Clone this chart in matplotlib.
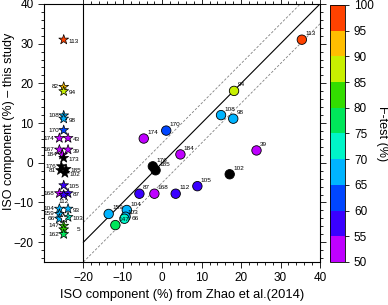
import numpy as np
import matplotlib
matplotlib.use('Agg')
import matplotlib.pyplot as plt
from matplotlib.colors import ListedColormap, BoundaryNorm

plt.rcParams['font.family'] = ['Liberation Sans', 'DejaVu Sans']

# circles: ISO component from Zhao et al. (x) vs this study (y), F-test (%) for colour
circ_labels = ['113', '94', '108', '98', '170', '174', '39', '184', '176', '185', '102',
               '105', '87', '168', '112', '159', '104', '66', '103', '147']
circ_x = [35.4, 18.2, 14.9, 18.0, 1.0, -4.7, 23.9, 4.6, -2.4, -1.7, 17.1,
          8.9, -5.8, -2.0, 3.4, -13.6, -9.0, -9.3, -9.6, -11.9]
circ_y = [31.0, 18.1, 12.0, 11.1, 8.1, 6.1, 3.1, 2.1, -0.9, -1.9, -2.9,
          -5.9, -7.8, -7.8, -7.8, -12.9, -11.9, -13.6, -14.1, -15.7]
circ_f = [97, 87, 67, 67, 62, 52, 52, 52, 40, 40, 40,
          57, 57, 52, 57, 67, 67, 67, 72, 77]

# stars: this study only (plotted in the left column)
star_labels = ['113', '82', '94', '108', '98', '170', '174', '43', '167', '39', '184', '173',
               '176', '81', '185', '102', '105', '168', '87', '112', '104', '93', '159',
               '103', '66', '', '147', '5', '162']
star_y = [31.0, 19.1, 18.0, 11.9, 11.1, 8.2, 6.2, 6.2, 3.3, 3.3, 2.0, 1.2,
          -0.9, -1.9, -1.6, -2.6, -5.7, -7.7, -7.7, -8.1, -11.6, -11.6, -12.9,
          -13.7, -14.1, -14.0, -15.9, -16.8, -18.0]
star_f = [97, 92, 87, 67, 67, 62, 52, 52, 52, 52, 52, 40,
          40, 40, 40, 40, 57, 52, 57, 57, 67, 67, 67,
          72, 67, np.nan, 82, 82, 77]

# layout of the star column: small sideways shift and label side
star_dx = [0, 0, 0, 0, 0, 0, -1.1, 1.1, -1.1, 1.1, -0.3, 0,
           -0.6, -0.8, 0.6, 0.3, 0, -1.1, 1.1, 0, -1.1, 1.1, -1.1,
           1.1, -1.1, 0, 0, 0, 0]
star_side = ['r', 'l', 'r', 'l', 'r', 'l', 'l', 'r', 'l', 'r', 'l', 'r',
             'l', 'l', 'r', 'r', 'r', 'l', 'r', 'b', 'l', 'r', 'l',
             'r', 'l', 'r', 'l', 'rr', 'l']

ticks_cb = [50, 55, 60, 65, 70, 75, 80, 85, 90, 95, 100]
colors_cb = ['#BF00FF', '#3A00FF', '#0046FF', '#00B4FF', '#00F5C8',
             '#00E65A', '#33DD00', '#C8F000', '#FFBE00', '#FF4200']

cmap = ListedColormap(colors_cb)
cmap.set_under('black')
cmap.set_bad('white')
norm = BoundaryNorm(ticks_cb, cmap.N)

fig = plt.figure(figsize=(3.88, 3.05), dpi=100)
ax = fig.add_axes([0.1134, 0.141, 0.7113, 0.846])
cax = fig.add_axes([0.851, 0.141, 0.038, 0.843])

# 1:1 line and +/-5 band
xx = np.array([-20, 40])
ax.plot(xx, xx, color='black', lw=0.8, zorder=1)
ax.plot(xx, xx + 5, color='gray', lw=0.6, ls=(0, (3, 2)), zorder=1)
ax.plot(xx, xx - 5, color='gray', lw=0.6, ls=(0, (3, 2)), zorder=1)
ax.axvline(-20, color='black', lw=0.8, zorder=1)

sc = ax.scatter(circ_x, circ_y, c=circ_f, cmap=cmap, norm=norm, s=46,
                edgecolors='black', linewidths=0.6, zorder=3)
for lab, x, y in zip(circ_labels, circ_x, circ_y):
    # the crowded lower cluster gets its label on the right
    off = (4, -3) if lab == '66' else (2.5, 2.5)
    ax.annotate(lab, (x, y), xytext=off, textcoords='offset points',
                fontsize=4.6, ha='left', va='bottom', zorder=4)

sx = [-25 + d for d in star_dx]
ax.scatter(sx, star_y, c=star_f, cmap=cmap, norm=norm, s=55, marker='*',
           edgecolors='black', linewidths=0.5, zorder=3, plotnonfinite=True)
for lab, x, y, side in zip(star_labels, sx, star_y, star_side):
    if side == 'l':
        off, ha, va = (-3.5, 0), 'right', 'center'
    elif side == 'r':
        off, ha, va = (3.5, -1), 'left', 'center'
    elif side == 'rr':
        off, ha, va = (9, 0), 'left', 'center'
    else:
        off, ha, va = (0, -3), 'center', 'top'
    ax.annotate(lab, (x, y), xytext=off, textcoords='offset points',
                fontsize=4.6, ha=ha, va=va, zorder=4)

ax.set_xlim(-30, 40)
ax.set_ylim(-25, 40)
ax.set_xticks(np.arange(-20, 41, 10))
ax.set_xticks(np.arange(-20, 41, 2), minor=True)
ax.set_yticks(np.arange(-20, 41, 10))
ax.set_yticks(np.arange(-24, 41, 2), minor=True)
ax.tick_params(which='both', direction='out', top=True, right=True,
               labelsize=8.5, width=0.6)
ax.tick_params(which='major', length=4)
ax.tick_params(which='minor', length=2)
for sp in ax.spines.values():
    sp.set_linewidth(0.8)

ax.set_xlabel('ISO component (%) from Zhao et al.(2014)', fontsize=9.3)
ax.xaxis.set_label_coords(0.5, -0.105)
ax.set_ylabel('ISO component (%) \u2013 this study', fontsize=9)
ax.yaxis.set_label_coords(-0.105, 0.546)

cb = fig.colorbar(sc, cax=cax, ticks=ticks_cb)
cb.outline.set_linewidth(0.6)
cb.ax.tick_params(labelsize=8.5, length=3, width=0.6)
cb.set_label('F-test (%)', rotation=270, fontsize=9, labelpad=10)

fig.savefig('out.png', dpi=100)
